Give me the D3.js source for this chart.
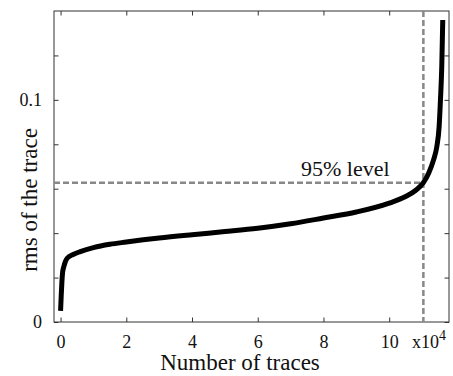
<!DOCTYPE html>
<html>
<head>
<meta charset="utf-8">
<script src="https://cdn.jsdelivr.net/npm/d3@7"></script>
<style>
  html, body { margin: 0; padding: 0; background: #fff; }
  svg { display: block; }
  svg text { font-family: "Liberation Serif", "Times New Roman", serif !important; fill: #111; }
</style>
</head>
<body>
<script>
// ---- data (x in units of 10^4 traces, y = rms of the trace) ----
const traceCount = [0.00, 0.02, 0.04, 0.06, 0.10, 0.20, 0.40, 0.60, 1.0, 1.5, 2.0, 3.0, 4.0, 5.0, 6.0, 7.0, 8.0, 9.0, 10.0, 10.5, 10.8, 11.04, 11.2, 11.35, 11.45, 11.52, 11.56, 11.60, 11.63];
const rmsValues  = [0.005, 0.012, 0.018, 0.022, 0.025, 0.0287, 0.0305, 0.0317, 0.0335, 0.035, 0.036, 0.0378, 0.0393, 0.0407, 0.0422, 0.0442, 0.0468, 0.0495, 0.0535, 0.0565, 0.0592, 0.0627, 0.067, 0.073, 0.079, 0.088, 0.100, 0.115, 0.136];
const xTickValues = [0, 2, 4, 6, 8, 10];
const yTickValues = [0, 0.02, 0.04, 0.06, 0.08, 0.1, 0.12];
const yTickLabels = ["0", "", "", "", "", "0.1", ""];
const level95X = [11.04];
const level95Y = [0.0627];
const levelLabel = ["95% level"];
const xTitle = "Number of traces";
const yTitle = "rms of the trace";

const W = 453, H = 376;
const margin = { left: 54, right: 4, top: 11, bottom: 54 };
const x0 = margin.left, x1 = W - margin.right, y0 = margin.top, y1 = H - margin.bottom;

const x = d3.scaleLinear().domain([-0.2, 11.82]).range([x0, x1]);
const y = d3.scaleLinear().domain([0, 0.14]).range([y1, y0]);

const svg = d3.select("body").append("svg").attr("width", W).attr("height", H);
const serif = '"Liberation Serif", "Times New Roman", serif';

// ticks (inward, on all four sides)
const tl = 4.5;
const axB = svg.append("g").attr("transform", `translate(0,${y1})`)
  .call(d3.axisBottom(x).tickValues(xTickValues).tickSize(-tl).tickPadding(13).tickFormat(d3.format("d")));
const axT = svg.append("g").attr("transform", `translate(0,${y0})`)
  .call(d3.axisTop(x).tickValues(xTickValues).tickSize(-tl).tickFormat(""));
const axL = svg.append("g").attr("transform", `translate(${x0},0)`)
  .call(d3.axisLeft(y).tickValues(yTickValues).tickSize(-tl).tickPadding(12).tickFormat((d, i) => yTickLabels[i]));
const axR = svg.append("g").attr("transform", `translate(${x1},0)`)
  .call(d3.axisRight(y).tickValues(yTickValues).tickSize(-tl).tickFormat(""));
[axB, axT, axL, axR].forEach(g => {
  g.attr("font-family", serif).attr("font-size", 18);
  g.select(".domain").remove();
  g.selectAll(".tick line").attr("stroke", "#333").attr("stroke-width", 1);
  g.selectAll(".tick text").attr("font-family", serif).attr("font-size", 18).attr("fill", "#111");
});

// frame
svg.append("rect").attr("x", x0).attr("y", y0).attr("width", x1 - x0).attr("height", y1 - y0)
  .attr("fill", "none").attr("stroke", "#333").attr("stroke-width", 1);

// exponent label
const ex = svg.append("text").attr("x", 412).attr("y", 348).attr("font-size", 18);
ex.append("tspan").text("x10");
ex.append("tspan").attr("dy", -8).attr("font-size", 14).text("4");

// 95% level dashed lines
svg.append("line")
  .attr("x1", x0).attr("x2", x(level95X[0]))
  .attr("y1", y(level95Y[0])).attr("y2", y(level95Y[0]))
  .attr("stroke", "#888").attr("stroke-width", 2.5).attr("stroke-dasharray", "6,3");
svg.append("line")
  .attr("x1", x(level95X[0])).attr("x2", x(level95X[0]))
  .attr("y1", y0).attr("y2", y1)
  .attr("stroke", "#888").attr("stroke-width", 2.5).attr("stroke-dasharray", "6,3");

svg.append("text").attr("x", 301).attr("y", 176).attr("font-size", 22).text(levelLabel[0]);

// curve
const pts = traceCount.map((d, i) => [d, rmsValues[i]]);
svg.append("path").datum(pts)
  .attr("fill", "none").attr("stroke", "#000").attr("stroke-width", 5)
  .attr("stroke-linejoin", "round")
  .attr("d", d3.line().x(d => x(d[0])).y(d => y(d[1])).curve(d3.curveMonotoneX));

// axis titles
svg.append("text").attr("x", 240).attr("y", 370).attr("text-anchor", "middle")
  .attr("font-size", 23).text(xTitle);
svg.append("text").attr("transform", "translate(37,200) rotate(-90)").attr("text-anchor", "middle")
  .attr("font-size", 23).text(yTitle);
</script>
</body>
</html>
